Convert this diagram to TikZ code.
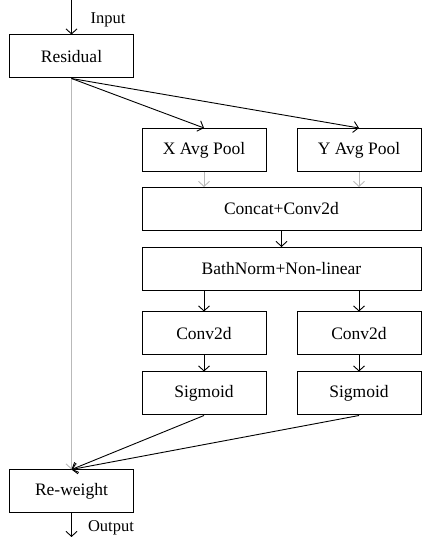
\documentclass[tikz,border=0pt]{standalone}
\usepackage{fontspec}
\setmainfont{Liberation Serif}
\usetikzlibrary{arrows.meta}
\tikzset{block/.style={
    draw,
    line width=1pt,
    minimum height=43pt,
    inner sep=0pt,
    anchor=center,
    font=\fontsize{17.5}{20}\selectfont
  },
  narrow/.style={block, minimum width=124pt},
  wide/.style={block, minimum width=279pt},
  flow/.style={->, line width=0.9pt},
  skip/.style={->, line width=0.9pt, gray!55}
}

\begin{document}
\begin{tikzpicture}[x=1pt, y=1pt, >={Straight Barb[length=5pt,width=11pt]}]
    \useasboundingbox (0,0) rectangle (422,537);
    % blocks
    \node[narrow] (Residual) at (71.5,480.5) {Residual};
    \node[narrow] (XPool) at (204,387) {X Avg Pool};
    \node[narrow] (YPool) at (359,387) {Y Avg Pool};
    \node[wide] (Concat) at (281.5,328) {Concat+Conv2d};
    \node[wide] (BathNorm) at (281.5,268) {BathNorm+Non-linear};
    \node[narrow] (XConv) at (204,203.5) {Conv2d};
    \node[narrow] (YConv) at (359,203.5) {Conv2d};
    \node[narrow] (XSig) at (204,143.5) {Sigmoid};
    \node[narrow] (YSig) at (359,143.5) {Sigmoid};
    \node[narrow] (Reweight) at (71.5,45.5) {Re-weight};
    % input / output
    \coordinate (In) at (71.5,537);
    \coordinate (Out) at (71.5,0);
    \node[font=\fontsize{16.5}{18}\selectfont] (InLabel) at (108,517) {Input};
    \node[font=\fontsize{16.5}{18}\selectfont] (OutLabel) at (111,9) {Output};
    % connectors
    \draw[flow] (In) -- (Residual);
    \draw[skip] (Residual.south) -- (Reweight.north);
    \draw[flow] (Residual.south) -- (XPool.north);
    \draw[flow] (Residual.south) -- (YPool.north);
    \draw[skip] (XPool) -- (XPool |- Concat.north);
    \draw[skip] (YPool) -- (YPool |- Concat.north);
    \draw[flow] (Concat) -- (BathNorm);
    \draw[flow] (XConv |- BathNorm.south) -- (XConv);
    \draw[flow] (YConv |- BathNorm.south) -- (YConv);
    \draw[flow] (XConv) -- (XSig);
    \draw[flow] (YConv) -- (YSig);
    \draw[flow] (XSig.south) -- (Reweight.north);
    \draw[flow] (YSig.south) -- (Reweight.north);
    \draw[flow] (Reweight) -- (Out);
\end{tikzpicture}
\end{document}
